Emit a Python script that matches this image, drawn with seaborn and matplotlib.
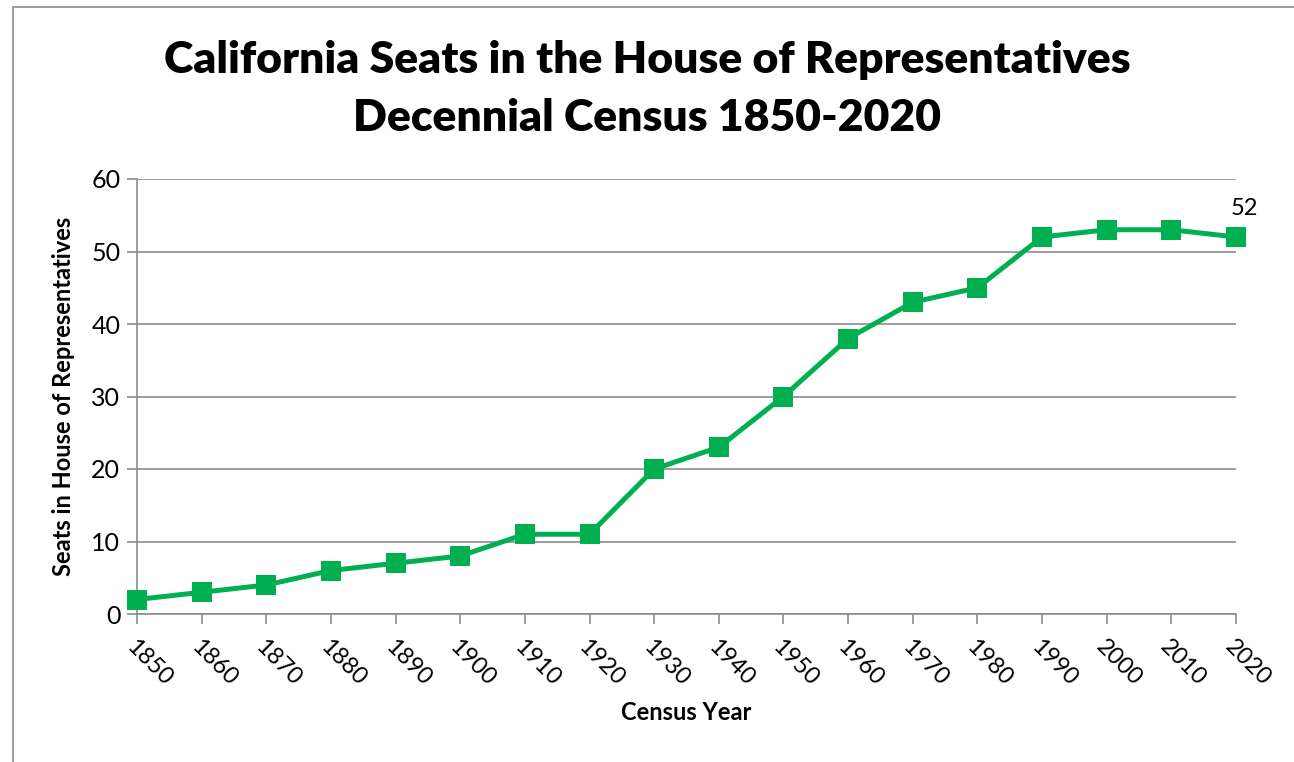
import matplotlib
matplotlib.use("Agg")
import matplotlib.pyplot as plt
import numpy as np
import pandas as pd
import seaborn as sns
from matplotlib.patches import Rectangle

# census years and california seats in the House
years = [1850, 1860, 1870, 1880, 1890, 1900, 1910, 1920, 1930,
         1940, 1950, 1960, 1970, 1980, 1990, 2000, 2010, 2020]
seats = [2, 3, 4, 6, 7, 8, 11, 11, 20, 23, 30, 38, 43, 45, 52, 53, 53, 52]
y_ticks = [0, 10, 20, 30, 40, 50, 60]

sns.set_theme(style="white")
plt.rcParams['font.family'] = ['Lato', 'DejaVu Sans']
plt.rcParams['text.color'] = 'black'
plt.rcParams['axes.labelcolor'] = 'black'
plt.rcParams['xtick.color'] = 'black'
plt.rcParams['ytick.color'] = 'black'

df = pd.DataFrame({"Census Year": years, "Seats": seats})

fig = plt.figure(figsize=(12.94, 7.62), dpi=100)
# chart frame (excel style border)
fig.patches.append(Rectangle((13 / 1294, -0.05), 1.5, 1.05 - 7 / 762,
                             transform=fig.transFigure, fill=False,
                             edgecolor="#8c8c8c", linewidth=1.2))

ax = fig.add_axes([137 / 1294, 1 - 614 / 762, (1236 - 137) / 1294, (614 - 179) / 762])

green = "#00B050"
sns.lineplot(data=df, x="Census Year", y="Seats", ax=ax, color=green,
             linewidth=3.6, marker="s", markersize=15, markeredgewidth=0,
             clip_on=False, zorder=3)

ax.set_xlim(1850, 2020)
ax.set_ylim(0, 60)
ax.set_yticks(y_ticks)
ax.set_xticks(years)
ax.set_xticklabels([str(y) for y in years], rotation=-45, ha="left", va="top",
                   rotation_mode="anchor")
ax.tick_params(axis="x", labelsize=17, length=7, color="#8c8c8c", width=1.2,
               labelcolor="black", direction="out", bottom=True, pad=9)
ax.tick_params(axis="y", labelsize=18, length=7, color="#8c8c8c", width=1.2,
               labelcolor="black", direction="out", left=True, pad=5)

ax.grid(axis="y", color="#8c8c8c", linewidth=1.2)
ax.grid(axis="x", visible=False)
for s in ["top", "right"]:
    ax.spines[s].set_visible(False)
for s in ["left", "bottom"]:
    ax.spines[s].set_color("#8c8c8c")
    ax.spines[s].set_linewidth(1.2)

ax.set_xlabel("Census Year", fontsize=17, fontweight="bold", labelpad=8)
ax.set_ylabel("Seats in House of Representatives", fontsize=17,
              fontweight="bold", labelpad=12)

# data label on final point
ax.annotate(str(seats[-1]), (years[-1], seats[-1]), xytext=(6, 13),
            textcoords="offset points", ha="center", va="bottom", fontsize=17)

fig.text(0.5, 1 - 60 / 762, "California Seats in the House of Representatives",
         ha="center", va="center", fontsize=32, fontweight="heavy")
fig.text(0.5, 1 - 118 / 762, "Decennial Census 1850-2020",
         ha="center", va="center", fontsize=32, fontweight="heavy")

fig.savefig("out.png", dpi=100)
